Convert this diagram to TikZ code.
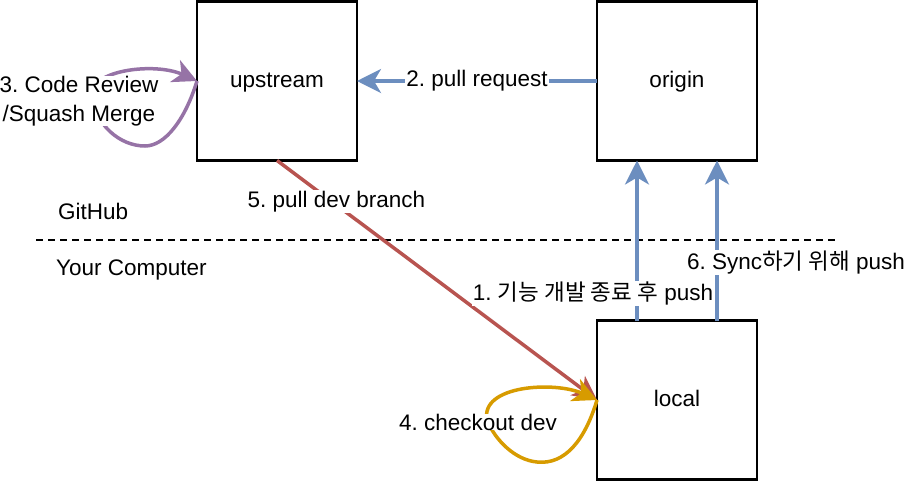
\documentclass[tikz,border=0pt]{standalone}
\usepackage{fontspec}
\setmainfont{Liberation Sans}
\newfontfamily\kr{Noto Sans CJK KR}
\usetikzlibrary{arrows.meta,calc}
\definecolor{bl}{HTML}{6C8EBF}
\definecolor{rd}{HTML}{B85450}
\definecolor{pu}{HTML}{9673A6}
\definecolor{og}{HTML}{D79B00}
\frenchspacing
\begin{document}
\begin{tikzpicture}[x=1pt,y=-1pt, font=\fontsize{22.5}{29}\selectfont,
  box/.style={draw, line width=2.5pt, minimum width=160pt, minimum height=159pt, inner sep=0pt, outer sep=0pt, text height=16pt, text depth=4pt},
  lbl/.style={fill=white, text=black, inner sep=1pt},
  conn/.style={line width=3.5pt, -{Stealth[length=24pt,width=24pt,inset=7pt]}},
  plain/.style={inner sep=0pt}]
\useasboundingbox (0,0) rectangle (904,482);
\node[box] (up) at (277,81) {upstream};
\node[box] (or) at (677,81) {origin};
\node[box] (lo) at (677,400) {local};
\coordinate (d1) at (36,240);
\coordinate (d2) at (836,240);
\draw[line width=1.5pt, dash pattern=on 7pt off 5pt] (d1) -- (d2);
\node[plain, anchor=west] (gh) at (58,211) {GitHub};
\node[plain, anchor=west] (yc) at (56,270) {Your Computer};
% 2. pull request
\draw[conn, bl] (or.west) -- node[lbl] (l2) {2. pull request} (up.east);
% 5. pull dev branch
\draw[conn, rd] (up.south) -- node[lbl, pos=0.17, xshift=5pt] (l5) {5. pull dev branch} (lo.west);
% 1. push
\draw[conn, bl] ($(lo.north west)+(40,0)$) -- node[lbl, pos=0.169, xshift=-44pt] (l1) {1. {\kr 기능 개발 종료 후} push} ($(or.south west)+(40,0)$);
% 6. sync push
\draw[conn, bl] ($(lo.north west)+(120,0)$) -- node[lbl, pos=0.3625, xshift=79pt] (l6) {6. Sync{\kr 하기 위해} push} ($(or.south west)+(120,0)$);
% 3. loop on upstream
\draw[conn, pu] (up.west) .. controls ($(up.west)+(-12,39)$) and ($(up.west)+(-32,65)$) .. ($(up.west)+(-52,65)$)
  .. controls ($(up.west)+(-77,65)$) and ($(up.west)+(-102,44)$) .. ($(up.west)+(-105,14)$)
  .. controls ($(up.west)+(-107,-11)$) and ($(up.west)+(-42,-19)$) .. (up.west);
\node[lbl, inner sep=0pt, align=center] (l3) at (79,101) {3. Code Review\\/Squash Merge};
% 4. loop on local
\draw[conn, og] (lo.west) .. controls ($(lo.west)+(-12,40)$) and ($(lo.west)+(-32,65)$) .. ($(lo.west)+(-60,62)$)
  .. controls ($(lo.west)+(-82,60)$) and ($(lo.west)+(-102,40)$) .. ($(lo.west)+(-110,20)$)
  .. controls ($(lo.west)+(-117,-15)$) and ($(lo.west)+(-42,-19)$) .. (lo.west);
\node[lbl, inner sep=0pt] (l4) at (478,422) {4. checkout dev};
\end{tikzpicture}
\end{document}
